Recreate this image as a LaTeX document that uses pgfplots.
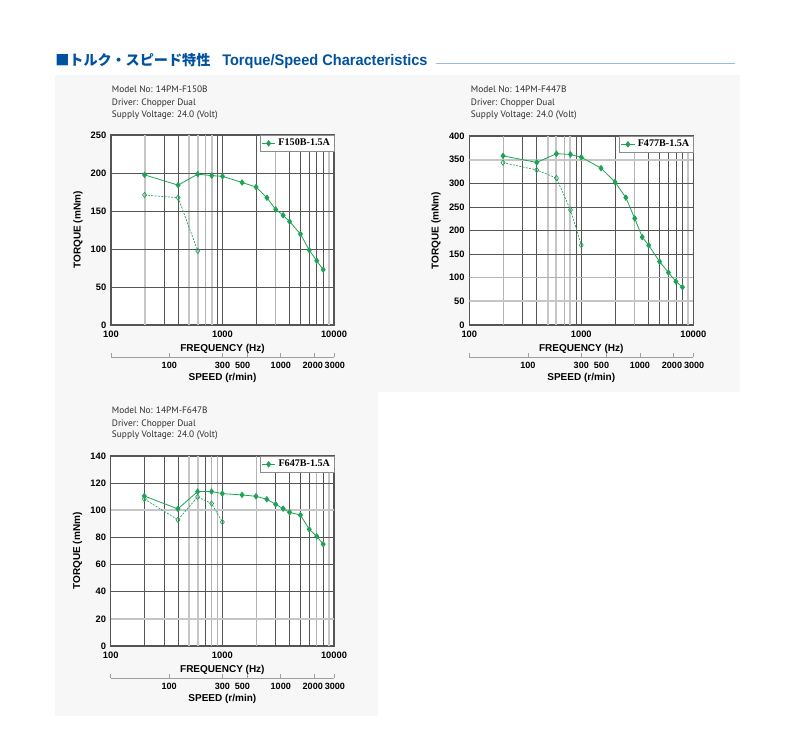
\documentclass[border=0pt]{standalone}
\usepackage{pgfplots}
\pgfplotsset{compat=1.18}
\usepackage{fontspec}
\setmainfont{Liberation Sans}
\newfontfamily\fontinfo{PT Sans}
\newfontfamily\fontleg{Liberation Serif}
\newfontfamily\fontjp{Noto Sans CJK JP}
\newfontfamily\fontttl[FakeStretch=0.95]{Liberation Sans}
\definecolor{grn}{RGB}{30,163,85}
\definecolor{ttlblue}{RGB}{0,82,160}
\definecolor{panelc}{RGB}{247,247,247}
\definecolor{gridk}{RGB}{85,85,85}
\definecolor{gridg}{RGB}{198,198,198}
\definecolor{gridt}{RGB}{180,180,180}
\definecolor{txtc}{RGB}{45,45,45}
\tikzset{
  gridkline/.style={draw=gridk, line width=0.5pt},
  gridgline/.style={draw=gridg, line width=1.5pt},
  gridtline/.style={draw=gridt, line width=0.6pt},
}
\newcommand{\VL}[3]{\pgfplotsinvokeforeach{#2}{\draw[#1] (axis cs:##1,0) -- (axis cs:##1,#3);}}
\newcommand{\HL}[2]{\pgfplotsinvokeforeach{#2}{\draw[#1] (axis cs:100,##1) -- (axis cs:10000,##1);}}
\begin{document}
\begin{tikzpicture}[x=0.75pt,y=0.75pt]
\path[use as bounding box] (0,0) rectangle (786,748);
\fill[panelc] (55,673) rectangle (740,356);
\fill[panelc] (55,356) rectangle (378,32);
% title
\node[anchor=base west, inner sep=0, text=ttlblue, font=\fontjp\bfseries\fontsize{10.6}{12}\selectfont] at (55,682) {■トルク・スピード特性};
\node[anchor=base west, inner sep=0, text=ttlblue, font=\fontttl\bfseries\fontsize{11.5}{13}\selectfont] at (222,682) {Torque/Speed Characteristics};
\draw[color={rgb,255:red,150;green,188;blue,228}, line width=0.5pt] (436,685) -- (735,685);
% info texts
\begin{scope}[every node/.style={anchor=base west, inner sep=0, text=txtc, font=\fontinfo\fontsize{7}{8}\selectfont}]
\node at (111.7,655) {Model No: 14PM-F150B};
\node at (111.7,642.3) {Driver: Chopper Dual};
\node at (111.7,630) {Supply Voltage: 24.0 (Volt)};
\node at (470.7,655) {Model No: 14PM-F447B};
\node at (470.7,642.3) {Driver: Chopper Dual};
\node at (470.7,630) {Supply Voltage: 24.0 (Volt)};
\node at (111.7,334.3) {Model No: 14PM-F647B};
\node at (111.7,321.7) {Driver: Chopper Dual};
\node at (111.7,310) {Supply Voltage: 24.0 (Volt)};
\end{scope}
% ================= chart 1
\begin{axis}[at={(83.25pt,317.25pt)}, anchor=south west, scale only axis, width=167.25pt, height=142.5pt,
  xmode=log, xmin=100, xmax=10000, ymin=0, ymax=250,
  axis background/.style={fill=white},
  xtick={100,1000,10000}, xticklabels={100,1000,10000},
  ytick={0,50,100,150,200,250}, yticklabels={0,50,100,150,200,250},
  major tick length=0pt, minor tick length=0pt,
  axis line style={gridk, line width=0.9pt},
  tick label style={font=\bfseries\fontsize{7}{8}\selectfont},
  xticklabel style={yshift=-0.8pt},
  xlabel={FREQUENCY (Hz)}, ylabel={TORQUE (mNm)},
  label style={font=\bfseries\fontsize{7.5}{9}\selectfont},
  xlabel style={at={(axis description cs:0.5,-0.128)}, anchor=center},
  ylabel style={at={(axis description cs:-0.148,0.5)}, anchor=center},
  legend style={at={(1,1)}, anchor=north east, draw=gray!90, fill=white,
      font=\fontleg\bfseries\fontsize{7.6}{8.5}\selectfont, inner sep=1pt, outer sep=0pt},
  legend image code/.code={\draw[mark repeat=2,mark phase=2,#1] plot coordinates {(0pt,0pt) (5.1pt,0pt) (10.2pt,0pt)};}]
\VL{gridgline}{200,500,600,800,9000}{250}
\VL{gridtline}{700,3000}{250}
\VL{gridkline}{300,400,900,1000,2000,4000,5000,6000,7000,8000}{250}
\HL{gridkline}{50,100,150,200}
\addplot[grn, line width=0.5pt, dash pattern=on 1.5pt off 1pt, mark=diamond, mark size=2pt, mark options={solid, fill=white}, forget plot] coordinates {(200,171)(400,167.5)(600,97.5)};
\addplot[grn, line width=0.6pt, mark=diamond*, mark size=2pt, mark options={solid, fill=grn}] coordinates {(200,197.5)(400,184)(600,198.5)(800,196.5)(1000,195.6)(1500,187.5)(2000,181.5)(2500,167.5)(3000,152)(3500,144.3)(4000,136)(5000,119.7)(6000,98.5)(7000,84.6)(8000,72.8)};
\addlegendentry{F150B-1.5A}
\end{axis}
\begin{axis}[at={(83.25pt,293.25pt)}, anchor=south west, scale only axis, width=167.25pt, height=1pt,
    xmode=log, xmin=30, xmax=3000, ymin=0, ymax=1,
    hide y axis, axis x line*=bottom,
    x axis line style={gray!75, line width=0.5pt},
    xtick={30,100,300,500,1000,2000,3000}, xticklabels={{},100,300,500\rule{7pt}{0pt},1000,2000\rule{2.4pt}{0pt},\rule{1.2pt}{0pt}3000},
    tick align=inside, major tick length=3pt, minor tick length=0pt,
    tick style={gray!75, line width=0.5pt},
    tick label style={font=\bfseries\fontsize{6.8}{7.5}\selectfont},
    xlabel={SPEED (r/min)},
    label style={font=\bfseries\fontsize{7.5}{9}\selectfont},
    xlabel style={at={(axis description cs:0.5,0)}, anchor=center, yshift=-15.6pt}]
\end{axis}
% ================= chart 2
\begin{axis}[at={(351.975pt,317.25pt)}, anchor=south west, scale only axis, width=168pt, height=141.75pt,
  xmode=log, xmin=100, xmax=10000, ymin=0, ymax=400,
  axis background/.style={fill=white},
  xtick={100,1000,10000}, xticklabels={100,1000,10000},
  ytick={0,50,100,150,200,250,300,350,400}, yticklabels={0,50,100,150,200,250,300,350,400},
  major tick length=0pt, minor tick length=0pt,
  axis line style={gridk, line width=0.9pt},
  tick label style={font=\bfseries\fontsize{7}{8}\selectfont},
  xticklabel style={yshift=-0.8pt},
  xlabel={FREQUENCY (Hz)}, ylabel={TORQUE (mNm)},
  label style={font=\bfseries\fontsize{7.5}{9}\selectfont},
  xlabel style={at={(axis description cs:0.5,-0.128)}, anchor=center},
  ylabel style={at={(axis description cs:-0.148,0.5)}, anchor=center},
  legend style={at={(1,1)}, anchor=north east, draw=gray!90, fill=white,
      font=\fontleg\bfseries\fontsize{7.6}{8.5}\selectfont, inner sep=1pt, outer sep=0pt},
  legend image code/.code={\draw[mark repeat=2,mark phase=2,#1] plot coordinates {(0pt,0pt) (5.1pt,0pt) (10.2pt,0pt)};}]
\VL{gridgline}{500,600,800,9000}{400}
\VL{gridtline}{200,700,3000}{400}
\VL{gridkline}{300,400,900,1000,2000,4000,5000,6000,7000,8000}{400}
\HL{gridgline}{50,350}
\HL{gridtline}{100}
\HL{gridkline}{150,200,250,300}
\addplot[grn, line width=0.5pt, dash pattern=on 1.5pt off 1pt, mark=diamond, mark size=2pt, mark options={solid, fill=white}, forget plot] coordinates {(200,343.5)(400,328)(600,311)(800,243.5)(1000,169)};
\addplot[grn, line width=0.6pt, mark=diamond*, mark size=2pt, mark options={solid, fill=grn}] coordinates {(200,358)(400,344)(600,362.5)(800,361)(1000,355)(1500,332)(2000,302.5)(2500,269.5)(3000,225.5)(3500,186)(4000,168.5)(5000,134)(6000,111)(7000,92)(8000,80)};
\addlegendentry{F477B-1.5A}
\end{axis}
\begin{axis}[at={(351.975pt,293.25pt)}, anchor=south west, scale only axis, width=168pt, height=1pt,
    xmode=log, xmin=30, xmax=3000, ymin=0, ymax=1,
    hide y axis, axis x line*=bottom,
    x axis line style={gray!75, line width=0.5pt},
    xtick={30,100,300,500,1000,2000,3000}, xticklabels={{},100,300,500\rule{7pt}{0pt},1000,2000\rule{2.4pt}{0pt},\rule{1.2pt}{0pt}3000},
    tick align=inside, major tick length=3pt, minor tick length=0pt,
    tick style={gray!75, line width=0.5pt},
    tick label style={font=\bfseries\fontsize{6.8}{7.5}\selectfont},
    xlabel={SPEED (r/min)},
    label style={font=\bfseries\fontsize{7.5}{9}\selectfont},
    xlabel style={at={(axis description cs:0.5,0)}, anchor=center, yshift=-15.6pt}]
\end{axis}
% ================= chart 3
\begin{axis}[at={(83.025pt,76.5pt)}, anchor=south west, scale only axis, width=167.5pt, height=142.5pt,
  xmode=log, xmin=100, xmax=10000, ymin=0, ymax=140,
  axis background/.style={fill=white},
  xtick={100,1000,10000}, xticklabels={100,1000,10000},
  ytick={0,20,40,60,80,100,120,140}, yticklabels={0,20,40,60,80,100,120,140},
  major tick length=0pt, minor tick length=0pt,
  axis line style={gridk, line width=0.9pt},
  tick label style={font=\bfseries\fontsize{7}{8}\selectfont},
  xticklabel style={yshift=-0.8pt},
  xlabel={FREQUENCY (Hz)}, ylabel={TORQUE (mNm)},
  label style={font=\bfseries\fontsize{7.5}{9}\selectfont},
  xlabel style={at={(axis description cs:0.5,-0.128)}, anchor=center},
  ylabel style={at={(axis description cs:-0.148,0.5)}, anchor=center},
  legend style={at={(1,1)}, anchor=north east, draw=gray!90, fill=white,
      font=\fontleg\bfseries\fontsize{7.6}{8.5}\selectfont, inner sep=1pt, outer sep=0pt},
  legend image code/.code={\draw[mark repeat=2,mark phase=2,#1] plot coordinates {(0pt,0pt) (5.1pt,0pt) (10.2pt,0pt)};}]
\VL{gridgline}{500,600,9000}{140}
\VL{gridtline}{800,900,2000,7000}{140}
\VL{gridkline}{200,300,400,700,1000,3000,4000,5000,6000,8000}{140}
\HL{gridgline}{20,100}
\HL{gridkline}{40,60,80,120}
\addplot[grn, line width=0.5pt, dash pattern=on 1.5pt off 1pt, mark=diamond, mark size=2pt, mark options={solid, fill=white}, forget plot] coordinates {(200,108.3)(400,93)(600,109.8)(800,105)(1000,91.3)};
\addplot[grn, line width=0.6pt, mark=diamond*, mark size=2pt, mark options={solid, fill=grn}] coordinates {(200,110.5)(400,101)(600,113.8)(800,113.8)(1000,112.3)(1500,111.3)(2000,110.3)(2500,108.1)(3000,104.4)(3500,101.2)(4000,98.5)(5000,96.5)(6000,86)(7000,80.8)(8000,75)};
\addlegendentry{F647B-1.5A}
\end{axis}
\begin{axis}[at={(83.025pt,52.5pt)}, anchor=south west, scale only axis, width=167.5pt, height=1pt,
    xmode=log, xmin=30, xmax=3000, ymin=0, ymax=1,
    hide y axis, axis x line*=bottom,
    x axis line style={gray!75, line width=0.5pt},
    xtick={30,100,300,500,1000,2000,3000}, xticklabels={{},100,300,500\rule{7pt}{0pt},1000,2000\rule{2.4pt}{0pt},\rule{1.2pt}{0pt}3000},
    tick align=inside, major tick length=3pt, minor tick length=0pt,
    tick style={gray!75, line width=0.5pt},
    tick label style={font=\bfseries\fontsize{6.8}{7.5}\selectfont},
    xlabel={SPEED (r/min)},
    label style={font=\bfseries\fontsize{7.5}{9}\selectfont},
    xlabel style={at={(axis description cs:0.5,0)}, anchor=center, yshift=-15.6pt}]
\end{axis}
\end{tikzpicture}
\end{document}
